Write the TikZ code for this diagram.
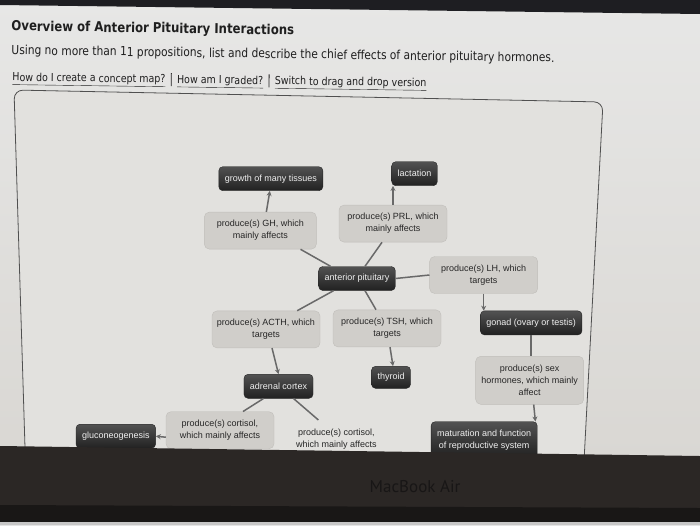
\documentclass[tikz,border=0pt]{standalone}
\usepackage{fontspec}
\usetikzlibrary{arrows.meta, positioning, calc}
\newfontfamily\headfont[FakeStretch=0.86]{DejaVu Sans}
\newfontfamily\mapfont{Liberation Sans}
\newfontfamily\brandfont{PT Sans}
\definecolor{pagetop}{RGB}{231,231,230}
\definecolor{pagebg}{RGB}{217,215,211}
\definecolor{panelfill}{RGB}{226,225,222}
\definecolor{panelline}{RGB}{80,80,80}
\definecolor{conctop}{RGB}{82,82,82}
\definecolor{concbot}{RGB}{33,33,33}
\definecolor{phrasefill}{RGB}{208,206,202}
\definecolor{phraseline}{RGB}{192,190,186}
\definecolor{linkgray}{RGB}{105,105,105}
\definecolor{bezel}{RGB}{43,39,37}
\definecolor{bezeldark}{RGB}{25,23,22}
\definecolor{brandtext}{RGB}{24,22,22}
\definecolor{screentop}{RGB}{30,30,34}

\begin{document}
\begin{tikzpicture}[x=1pt, y=-1pt,
    node distance=20pt and 30pt,
    concept/.style={rectangle, rounded corners=4pt, draw=black!85, top color=conctop, bottom color=concbot, text=white!94!black, font=\mapfont\fontsize{9}{12}\selectfont, minimum height=24pt, inner xsep=6pt, align=center},
    phrase/.style={rectangle, rounded corners=5pt, draw=phraseline, fill=phrasefill, text=black!85, font=\mapfont\fontsize{9}{12}\selectfont, minimum width=108pt, minimum height=37pt, align=center},
    arrow/.style={-{Stealth[length=5pt, width=5pt]}, line width=1.5pt, linkgray},
    link/.style={line width=1.5pt, linkgray},
    header/.style={anchor=west, rotate=-0.8, text=black!88}
]
\useasboundingbox (0,0) rectangle (700,525);

% Screen and page
\shade[top color=pagetop, bottom color=pagebg] (0,0) rectangle (700,460);
\fill[screentop] (0,0) -- (700,0) -- (700,14) -- (0,5) -- cycle;

\node[header, font=\headfont\bfseries\fontsize{13.6}{15}\selectfont] (title) at (8,27) {Overview of Anterior Pituitary Interactions};
\node[header, font=\headfont\fontsize{12.4}{14}\selectfont] (task) at (8,51) {Using no more than 11 propositions, list and describe the chief effects of anterior pituitary hormones.};
\node[header, font=\headfont\fontsize{11}{13}\selectfont] (help) at (9,78) {\underline{How do I create a concept map?}\enspace\rule[-3pt]{0.8pt}{13pt}\enspace\underline{How am I graded?}\enspace\rule[-3pt]{0.8pt}{13pt}\enspace\underline{Switch to drag and drop version}};

% Map panel
\draw[panelline, line width=0.8pt, fill=panelfill, rounded corners=9pt] (14,90) -- (603,102) -- (583,480) -- (26,480) -- cycle;

% Hub
\node[concept] (pit) at (357,278.5) {anterior pituitary};

% Upper branches
\node[phrase, above left=17pt and 2pt of pit, minimum width=112pt] (gh) {produce(s) GH, which\\mainly affects};
\node[phrase, above=24pt of pit, xshift=36pt] (prl) {produce(s) PRL, which\\mainly affects};
\node[concept, above=21pt of gh, xshift=10.5pt] (growth) {growth of many tissues};
\node[concept, above=19pt of prl, xshift=21.5pt] (lact) {lactation};

% Gonad branch
\node[phrase, right=34pt of pit, yshift=3.5pt] (lh) {produce(s) LH, which\\targets};
\node[concept, below=17pt of lh, xshift=47.5pt] (gonad) {gonad (ovary or testis)};
\node[phrase, below=21pt of gonad, xshift=-1.5pt, minimum height=48pt] (sex) {produce(s) sex\\hormones, which mainly\\affect};
\node[concept, below=17pt of sex, xshift=-45.5pt, minimum height=36pt] (repro) {maturation and function\\of reproductive system};

% Thyroid and adrenal branches
\node[phrase, below=20pt of pit, xshift=-91pt] (acth) {produce(s) ACTH, which\\targets};
\node[phrase, below=19pt of pit, xshift=30pt] (tsh) {produce(s) TSH, which\\targets};
\node[concept, below=19pt of tsh, xshift=4pt, minimum height=22pt] (thyroid) {thyroid};
\node[concept, below=26pt of acth, xshift=12.5pt] (adrenal) {adrenal cortex};
\node[phrase, below=13pt of adrenal, xshift=-58.5pt] (cortl) {produce(s) cortisol,\\which mainly affects};
\node[concept, left=10pt of cortl, yshift=-6pt] (gluco) {gluconeogenesis};
\node[phrase, draw=none, fill=none, right=8pt of cortl, yshift=-8.5pt] (cortr) {produce(s) cortisol,\\which mainly affects};

% Connectors
\draw[arrow] ([xshift=6pt]gh.north) -- ([xshift=-1pt]growth.south);
\draw[arrow] (prl.north) -- (prl.north |- lact.south);
\draw[link] ([xshift=12pt]pit.north west) -- ([xshift=-16pt]gh.south east);
\draw[link] ([xshift=8pt]pit.north) -- ([xshift=-11pt]prl.south);
\draw[link] (pit.east) -- (lh.west);
\draw[link] ([xshift=15pt]pit.south west) -- ([xshift=-23pt]acth.north east);
\draw[link] ([xshift=8pt]pit.south) -- ([xshift=-11pt]tsh.north);
\draw[arrow] (lh.south) -- (lh.south |- gonad.north);
\draw[arrow] ([xshift=3pt]tsh.south) -- ([xshift=2pt]thyroid.north);
\draw[arrow] ([xshift=6pt]acth.south) -- (adrenal.north);
\draw[link] (gonad.south) -- (gonad.south |- sex.north);
\draw[arrow] ([xshift=4pt]sex.south) -- ([xshift=-2pt]repro.north east);
\draw[link] ([xshift=-15pt]adrenal.south) -- ([xshift=23pt]cortl.north);
\draw[link] ([xshift=15pt]adrenal.south) -- ([xshift=-18pt]cortr.north);
\draw[arrow] ([yshift=-7pt]cortl.west) -- (gluco.east);

% Laptop bezel
\fill[bezel] (0,446) -- (700,456) -- (700,525) -- (0,525) -- cycle;
\fill[bezeldark] (0,505) -- (700,508) -- (700,522) -- (0,522) -- cycle;
\fill[black!22] (0,522) rectangle (700,525);
\node[font=\brandfont\fontsize{17}{20}\selectfont, text=brandtext] (brand) at (415,487) {MacBook Air};
\end{tikzpicture}
\end{document}
